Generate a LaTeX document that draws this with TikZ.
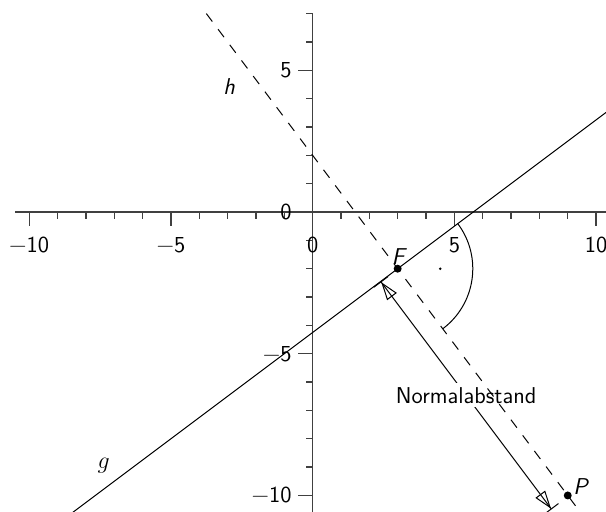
\documentclass[tikz,border=0pt]{standalone}
\usepackage{fontspec}
\usepackage{tikz}
\usetikzlibrary{arrows.meta}

\begin{document}
\begin{tikzpicture}[
    x=0.5cm, y=0.5cm,
    font=\sffamily\fontsize{11.5}{13}\selectfont,
    axis/.style={line width=0.75pt, black!75},
    axtick/.style={line width=0.65pt, black!75},
    gline/.style={line width=0.5pt},
    hline/.style={line width=0.5pt, dash pattern=on 5pt off 4.8pt},
    dist/.style={line width=0.5pt,
                 {Bar[width=9pt]Triangle[open,length=9pt,width=6pt]}-{Triangle[open,length=9pt,width=6pt]Bar[width=9pt]}},
    pt/.style={circle, fill, inner sep=0pt, minimum size=4pt},
    lab/.style={font=\sffamily\itshape\fontsize{11.5}{13}\selectfont},
]
% Frame
\useasboundingbox (-11.03,-10.55) rectangle (10.35,7.48);
\clip (-11.03,-10.55) rectangle (10.35,7.48);

% Axes
\draw[axis] (-10.5,0) -- (10.6,0);
\draw[axis] (0,-10.6) -- (0,7);
\foreach \i in {-10,...,-1,1,2,...,10}
    \draw[axtick] (\i,0) -- (\i,-0.25);
\foreach \j in {-10,...,-1,1,2,...,7}
    \draw[axtick] (0,\j) -- (-0.25,\j);
\foreach \i/\t in {-10/−10,-5/−5,5/5,10/10} {
    \draw[axtick] (\i,0) -- (\i,-0.5);
    \node (xl\i) at (\i,-1.16) {\t};
}
\foreach \j/\t in {-10/−10,-5/−5,5/5} {
    \draw[axtick] (0,\j) -- (-0.5,\j);
    \node[anchor=east, inner sep=0pt] (yl\j) at (-0.73,\j) {\t};
}
\node (xl0) at (0,-1.16) {0};
\node[anchor=east, inner sep=0pt] (yl0) at (-0.73,0) {0};

% Points
\coordinate (F) at (3,-2);
\coordinate (P) at (9,-10);
\coordinate (g1) at (-9,-11);
\coordinate (g2) at (11,4);
\coordinate (h1) at (-3.75,7);
\coordinate (h2) at (9.375,-10.5);
\coordinate (Fa) at (2.4,-2.45);
\coordinate (Pa) at (8.43,-10.49);

% Line g
\draw[gline] (g1) -- (g2);

% Distance arrow
\draw[dist] (Fa) -- node[fill=white, inner sep=2pt] (nab) {Normalabstand} (Pa);

% Line h
\draw[hline] (h1) -- (h2);

% Right angle
\draw[gline] (F) ++(36.87:1.325cm) arc[start angle=36.87, end angle=-53.13, radius=1.325cm];
\fill (4.5,-2) circle (0.7pt);

% Labels
\node[pt] (nF) at (F) {};
\node[pt] (nP) at (P) {};
\node[lab] (lF) at (3.02,-1.58) {F};
\node[lab] (lP) at (9.45,-9.7) {P};
\node[lab] (lh) at (-2.95,4.41) {h};
\node (lg) at (-7.37,-8.96) {$g$};

\end{tikzpicture}
\end{document}
